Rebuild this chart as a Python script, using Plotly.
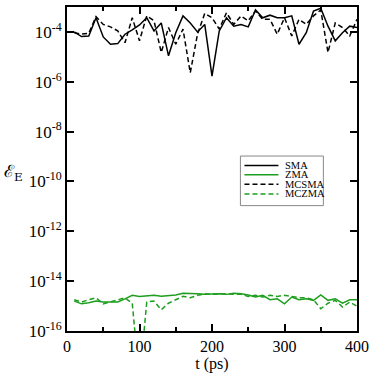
import plotly.graph_objects as go

t = [10, 20, 30, 40, 50, 60, 70, 80, 90, 100, 110, 120, 130, 140, 150, 160, 170, 180, 190, 200,
     210, 220, 230, 240, 250, 260, 270, 280, 290, 300, 310, 320, 330, 340, 350, 360, 370, 380, 390, 400]

sma = [1.0e-4, 6.5e-5, 6.9e-5, 3.7e-4, 6.3e-5, 3.2e-5, 3.4e-5, 8.1e-5, 1.2e-4, 1.9e-4,
       3.7e-4, 1.1e-4, 2.3e-4, 1.1e-5, 9.3e-5, 4.4e-4, 2.3e-4, 1.0e-4, 2.0e-4, 1.7e-6,
       1.1e-4, 3.7e-4, 1.7e-4, 2.0e-4, 1.6e-4, 7.6e-4, 3.7e-4, 4.7e-4, 3.7e-4, 3.7e-4,
       4.4e-4, 3.2e-5, 9.3e-5, 6.9e-4, 8.9e-4, 1.7e-4, 4.4e-5, 9.3e-5, 1.7e-4, 1.5e-4]

mcsma = [9.3e-5, 8.1e-5, 8.9e-5, 4.1e-4, 2.0e-4, 1.6e-4, 1.1e-4, 3.7e-5, 3.7e-4, 4.4e-5,
         4.4e-4, 2.8e-4, 1.5e-5, 1.5e-4, 3.2e-5, 1.3e-4, 2.3e-6, 8.1e-5, 5.6e-4, 3.7e-4,
         1.3e-4, 5.9e-4, 2.0e-4, 4.4e-4, 2.8e-4, 6.9e-4, 3.2e-4, 3.2e-4, 8.1e-5, 3.7e-4,
         6.9e-5, 3.2e-4, 2.0e-4, 4.4e-4, 7.6e-4, 1.5e-5, 2.3e-4, 1.5e-4, 6.9e-5, 3.2e-4]

zma = [1.58e-15, 1.23e-15, 1.35e-15, 1.58e-15, 1.45e-15, 1.45e-15, 1.45e-15, 1.95e-15, 2.69e-15, 2.45e-15,
       2.5e-15, 2.69e-15, 2.5e-15, 2.69e-15, 2.8e-15, 3.3e-15, 3.1e-15, 3.1e-15, 2.95e-15, 3.1e-15,
       3.1e-15, 2.95e-15, 3.3e-15, 3.1e-15, 2.8e-15, 2.3e-15, 2.69e-15, 1.8e-15, 1.95e-15, 1.23e-15,
       2.3e-15, 1.8e-15, 1.95e-15, 1.7e-15, 2.8e-15, 1.7e-15, 1.95e-15, 1.3e-15, 1.8e-15, 1.8e-15]

mczma = [1.8e-15, 1.45e-15, 1.8e-15, 2.15e-15, 1.23e-15, 1.45e-15, 1.7e-15, 2.15e-15, 1.3e-15, 1.0e-18,
         1.45e-15, 1.6e-15, 7.1e-16, 1.3e-15, 1.8e-15, 2.45e-15, 2.15e-15, 2.7e-15, 3.1e-15, 2.95e-15,
         3.1e-15, 3.1e-15, 3.1e-15, 2.95e-15, 2.45e-15, 2.7e-15, 2.3e-15, 2.7e-15, 2.45e-15, 2.7e-15,
         2.45e-15, 2.15e-15, 2.15e-15, 1.8e-15, 7.8e-16, 1.3e-15, 1.7e-15, 9.1e-16, 1.45e-15, 9.8e-16]

y_tick_exps = [-4, -6, -8, -10, -12, -14, -16]
x_ticks = [0, 100, 200, 300, 400]

GREEN = '#1e9e1e'
FONT = "Liberation Serif, Times New Roman, serif"
DASH = '5px,3px'

series = [
    ('SMA', sma, 'black', 'solid'),
    ('ZMA', zma, GREEN, 'solid'),
    ('MCSMA', mcsma, 'black', DASH),
    ('MCZMA', mczma, GREEN, DASH),
]

fig = go.Figure()
for name, vals, col, dash in series:
    fig.add_trace(go.Scatter(x=t, y=vals, name=name, mode='lines', showlegend=False,
                             line=dict(color=col, width=1.5, dash=dash)))

# hand-made compact legend box (xmgrace style)
shapes = [dict(type='rect', xref='paper', yref='paper', x0=0.598, x1=0.884, y0=0.387, y1=0.540,
               line=dict(color='#888888', width=1), fillcolor='white', layer='above')]
annotations = []
row_y = [0.511, 0.482, 0.453, 0.423]
for (name, vals, col, dash), yy in zip(series, row_y):
    shapes.append(dict(type='line', xref='paper', yref='paper', x0=0.612, x1=0.729, y0=yy, y1=yy,
                       line=dict(color=col, width=1.5, dash=dash), layer='above'))
    annotations.append(dict(text=name, xref='paper', yref='paper', x=0.745, y=yy,
                            xanchor='left', yanchor='middle', showarrow=False,
                            font=dict(family=FONT, size=10.5, color='black')))

annotations.append(dict(text='ℰ<sub>E</sub>', xref='paper', yref='paper',
                        x=-0.225, y=0.49, showarrow=False, xanchor='left', yanchor='middle',
                        font=dict(family="DejaVu Serif", size=17, color='black')))

fig.update_layout(
    width=374, height=374,
    paper_bgcolor='white', plot_bgcolor='white',
    margin=dict(l=67, r=15, t=5, b=43),
    font=dict(family=FONT, size=17, color='black'),
    showlegend=False,
    shapes=shapes,
    annotations=annotations,
)
fig.update_xaxes(range=[0, 400], tickvals=x_ticks,
                 tickfont=dict(family=FONT, size=16, color='black'),
                 ticks='inside', ticklen=7, tickwidth=1.5, tickcolor='black',
                 minor=dict(dtick=50, tick0=0, ticks='inside', ticklen=4, tickwidth=1.5, tickcolor='black'),
                 showline=True, linecolor='black', linewidth=2, mirror='ticks',
                 showgrid=False, zeroline=False,
                 title=dict(text='t (ps)', standoff=1, font=dict(family=FONT, size=16, color='black')))
fig.update_yaxes(type='log', range=[-16, -3],
                 tickvals=[10.0 ** e for e in y_tick_exps],
                 ticktext=['10<sup>%d</sup>' % e for e in y_tick_exps],
                 tickfont=dict(family=FONT, size=17, color='black'),
                 ticks='inside', ticklen=7, tickwidth=1.5, tickcolor='black',
                 showline=True, linecolor='black', linewidth=2, mirror='ticks',
                 showgrid=False, zeroline=False)

fig.write_html("out.html", config={'displayModeBar': False},
               post_script="document.body.style.margin='0';")
